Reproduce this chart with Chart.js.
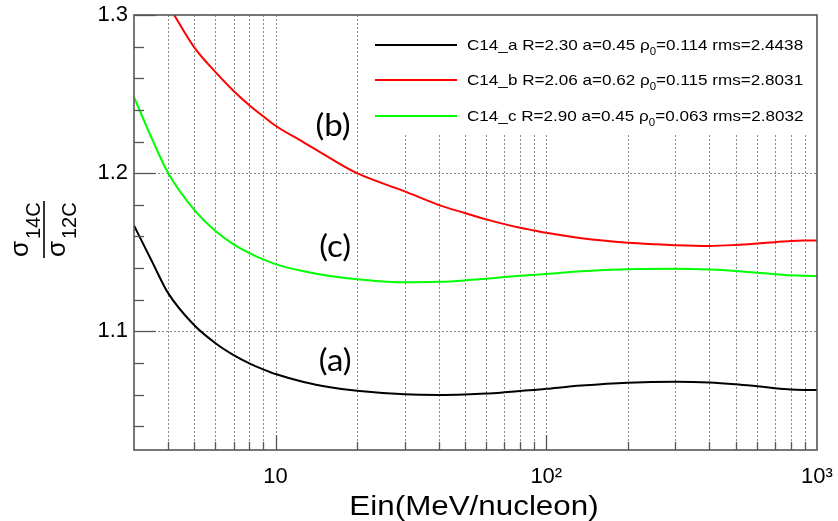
<!DOCTYPE html>
<html>
<head>
<meta charset="utf-8">
<script src="https://cdn.jsdelivr.net/npm/chart.js@4/dist/chart.umd.min.js"></script>
<style>
  html, body { margin: 0; padding: 0; background: #ffffff; }
  #wrap { width: 838px; height: 521px; }
</style>
</head>
<body>
<div id="wrap"><canvas id="c" width="838" height="521"></canvas></div>
<script>
// ---------------- data ----------------
const energyA = [3, 3.5, 4, 5, 6, 7, 8, 9, 10, 12.7, 15.9, 20, 30, 40, 50, 60, 70, 80, 90, 100, 135, 200, 300, 400, 500, 600, 700, 800, 900, 1000];
const ratioA  = [1.1669, 1.1440, 1.1245, 1.1040, 1.0925, 1.0850, 1.0798, 1.0760, 1.0730, 1.0680, 1.0647, 1.0624, 1.0602, 1.0598, 1.0601, 1.0607, 1.0615, 1.0623, 1.0630, 1.0637, 1.0657, 1.0675, 1.0681, 1.0677, 1.0666, 1.0653, 1.0641, 1.0633, 1.0630, 1.0629];

const energyB = [4.22, 5, 6, 7, 8, 9, 10, 12.7, 15.9, 20, 30, 40, 50, 60, 70, 80, 90, 100, 135, 200, 300, 400, 500, 600, 700, 800, 900, 1000];
const ratioB  = [1.3000, 1.2797, 1.2639, 1.2520, 1.2430, 1.2360, 1.2300, 1.2195, 1.2095, 1.2000, 1.1885, 1.1800, 1.1748, 1.1708, 1.1678, 1.1655, 1.1638, 1.1623, 1.1588, 1.1560, 1.1545, 1.1540, 1.1546, 1.1555, 1.1564, 1.1571, 1.1574, 1.1575];

const energyC = [3, 3.5, 4, 5, 6, 7, 8, 9, 10, 12.7, 15.9, 20, 30, 40, 50, 60, 70, 80, 90, 100, 135, 200, 300, 400, 500, 600, 700, 800, 900, 1000];
const ratioC  = [1.2481, 1.2215, 1.2005, 1.1770, 1.1635, 1.1550, 1.1495, 1.1455, 1.1425, 1.1380, 1.1350, 1.1330, 1.1310, 1.1313, 1.1322, 1.1333, 1.1343, 1.1351, 1.1357, 1.1362, 1.1380, 1.1393, 1.1396, 1.1391, 1.1382, 1.1371, 1.1361, 1.1354, 1.1351, 1.1350];

const seriesNames = ['C14_a', 'C14_b', 'C14_c'];
const legendTexts = [
  ['C14_a R=2.30 a=0.45 \u03C1', '0', '=0.114 rms=2.4438'],
  ['C14_b R=2.06 a=0.62 \u03C1', '0', '=0.115 rms=2.8031'],
  ['C14_c R=2.90 a=0.45 \u03C1', '0', '=0.063 rms=2.8032']
];
const curveLabels = ['(a)', '(b)', '(c)'];
const curveLabelE = [16.6, 16.3, 16.6];
const curveLabelV = [1.0808, 1.2296, 1.1530];

const xTickValues = [10, 100, 1000];
const xTickLabels = ['10', '10\u00B2', '10\u00B3'];
const yTickValues = [1.1, 1.2, 1.3];
const yTickLabels = ['1.1', '1.2', '1.3'];
const yMinorValues = [1.04, 1.06, 1.08, 1.12, 1.14, 1.16, 1.18, 1.22, 1.24, 1.26, 1.28];
const yGridValues = [1.1, 1.2];
const xAxisTitle = 'Ein(MeV/nucleon)';

const X_MIN = 3, X_MAX = 1000, Y_MIN = 1.025, Y_MAX = 1.3;

// x positions of the dotted grid / ticks (every integer multiple of a decade)
const xGridValues = [];
for (let d = 1; d <= 100; d *= 10) {
  for (let m = 1; m <= 9; m++) {
    const v = m * d;
    if (v > X_MIN && v < X_MAX) xGridValues.push(v);
  }
}

const COLORS = ['#000000', '#ff0000', '#00ff00'];
const FONT = "'Liberation Sans', Arial, Helvetica, sans-serif";

function toPts(xs, ys) { return xs.map((v, i) => ({ x: v, y: ys[i] })); }

// text drawn with a horizontal stretch factor (the reference is stretched)
function stretchedText(ctx, parts, x, y, sx) {
  ctx.save();
  ctx.translate(x, y);
  ctx.scale(sx, 1);
  let cx = 0;
  for (const p of parts) {
    ctx.font = p.font;
    ctx.fillText(p.text, cx, p.dy || 0);
    cx += ctx.measureText(p.text).width;
  }
  ctx.restore();
}

const rootPlugin = {
  id: 'rootStyle',
  beforeDatasetsDraw(chart) {
    const { ctx, chartArea: ca, scales: { x, y } } = chart;
    ctx.save();
    // dotted grid
    ctx.strokeStyle = '#8a8a8a';
    ctx.lineWidth = 1;
    ctx.setLineDash([2, 2]);
    for (const v of xGridValues) {
      const px = Math.round(x.getPixelForValue(v)) + 0.5;
      ctx.beginPath(); ctx.moveTo(px, ca.top); ctx.lineTo(px, ca.bottom); ctx.stroke();
    }
    for (const v of yGridValues) {
      const py = Math.round(y.getPixelForValue(v)) + 0.5;
      ctx.beginPath(); ctx.moveTo(ca.left, py); ctx.lineTo(ca.right, py); ctx.stroke();
    }
    ctx.setLineDash([]);
    // legend box (white, hides grid)
    const bx = x.getPixelForValue(22.5);
    ctx.fillStyle = '#ffffff';
    ctx.fillRect(bx, ca.top, ca.right - bx, 119);
    ctx.restore();
  },
  afterDatasetsDraw(chart) {
    const { ctx, chartArea: ca, scales: { x, y } } = chart;
    ctx.save();
    // ticks (inside the frame, ROOT style)
    ctx.strokeStyle = '#555555';
    ctx.lineWidth = 1.3;
    for (const v of yTickValues) {
      const py = Math.round(y.getPixelForValue(v)) + 0.5;
      ctx.beginPath(); ctx.moveTo(ca.left, py); ctx.lineTo(ca.left + 22, py); ctx.stroke();
    }
    for (const v of yMinorValues) {
      const py = Math.round(y.getPixelForValue(v)) + 0.5;
      ctx.beginPath(); ctx.moveTo(ca.left, py); ctx.lineTo(ca.left + 10, py); ctx.stroke();
    }
    for (const v of xGridValues) {
      const px = Math.round(x.getPixelForValue(v)) + 0.5;
      const len = (v === 10 || v === 100) ? 15 : 8;
      ctx.beginPath(); ctx.moveTo(px, ca.bottom); ctx.lineTo(px, ca.bottom - len); ctx.stroke();
    }
    // frame
    ctx.strokeStyle = '#555555';
    ctx.lineWidth = 1.6;
    ctx.strokeRect(ca.left, ca.top, ca.right - ca.left, ca.bottom - ca.top);

    // legend entries
    const rowY = [45, 80, 116];
    for (let i = 0; i < 3; i++) {
      ctx.strokeStyle = COLORS[i];
      ctx.lineWidth = 2;
      ctx.beginPath(); ctx.moveTo(375, rowY[i]); ctx.lineTo(457, rowY[i]); ctx.stroke();
      ctx.fillStyle = '#000000';
      ctx.textBaseline = 'middle';
      ctx.textAlign = 'left';
      const t = legendTexts[i];
      stretchedText(ctx, [
        { text: t[0], font: '15px ' + FONT },
        { text: t[1], font: '10px ' + FONT, dy: 6 },
        { text: t[2], font: '15px ' + FONT }
      ], 467, rowY[i] + 1, 1.14);
    }

    // curve annotations
    ctx.fillStyle = '#000000';
    ctx.textBaseline = 'middle';
    for (let i = 0; i < 3; i++) {
      const px = x.getPixelForValue(curveLabelE[i]);
      const py = y.getPixelForValue(curveLabelV[i]);
      ctx.save();
      ctx.translate(px, py);
      ctx.scale(1.1, 1);
      ctx.font = "30px Lato, 'Open Sans', sans-serif";
      ctx.textAlign = 'center';
      ctx.fillText(curveLabels[i], 0, 0);
      ctx.restore();
    }
    ctx.restore();
  },
  afterDraw(chart) {
    const { ctx } = chart;
    ctx.save();
    ctx.fillStyle = '#000000';
    // x axis title
    ctx.textBaseline = 'alphabetic';
    ctx.textAlign = 'center';
    ctx.save();
    ctx.translate(474, 515);
    ctx.scale(1.12, 1);
    ctx.font = '28px ' + FONT;
    ctx.fillText(xAxisTitle, 0, 0);
    ctx.restore();

    // y axis title: sigma_14C over sigma_12C, rotated
    ctx.save();
    ctx.translate(44, 230);
    ctx.rotate(-Math.PI / 2);
    ctx.textAlign = 'left';
    ctx.font = '26px ' + FONT;
    ctx.fillText('\u03C3', -27, -16);
    ctx.fillText('\u03C3', -27, 21);
    ctx.font = '20px ' + FONT;
    ctx.fillText('14C', -9, -4);
    ctx.fillText('12C', -9, 32);
    ctx.strokeStyle = '#000000';
    ctx.lineWidth = 1.6;
    ctx.beginPath(); ctx.moveTo(-28, 0); ctx.lineTo(29, 0); ctx.stroke();
    ctx.restore();
    ctx.restore();
  }
};

const datasets = [
  { label: seriesNames[0], data: toPts(energyA, ratioA), borderColor: COLORS[0] },
  { label: seriesNames[1], data: toPts(energyB, ratioB), borderColor: COLORS[1] },
  { label: seriesNames[2], data: toPts(energyC, ratioC), borderColor: COLORS[2] }
].map(d => Object.assign(d, {
  borderWidth: 2, pointRadius: 0, fill: false,
  cubicInterpolationMode: 'monotone', borderJoinStyle: 'round'
}));

new Chart(document.getElementById('c'), {
  type: 'line',
  data: { datasets },
  plugins: [rootPlugin],
  options: {
    responsive: false,
    animation: false,
    devicePixelRatio: 1,
    layout: { padding: { top: 15, right: 21, left: 0, bottom: 0 } },
    plugins: { legend: { display: false }, tooltip: { enabled: false } },
    scales: {
      x: {
        type: 'logarithmic',
        min: X_MIN, max: X_MAX,
        grid: { display: false, drawTicks: false },
        border: { display: false },
        afterBuildTicks(scale) { scale.ticks = xTickValues.map(v => ({ value: v })); },
        afterFit(scale) {
          scale.height = 71;
          scale.paddingLeft = 0; scale.paddingRight = 0;
          scale.paddingTop = 0; scale.paddingBottom = 0;
        },
        ticks: {
          autoSkip: false, maxRotation: 0, padding: 14, color: '#000000',
          font: { family: FONT, size: 22 },
          callback(value) { const i = xTickValues.indexOf(value); return i >= 0 ? xTickLabels[i] : ''; }
        }
      },
      y: {
        type: 'linear',
        min: Y_MIN, max: Y_MAX,
        grid: { display: false, drawTicks: false },
        border: { display: false },
        afterBuildTicks(scale) { scale.ticks = yTickValues.map(v => ({ value: v })); },
        afterFit(scale) {
          scale.width = 134;
          scale.paddingTop = 0; scale.paddingBottom = 0;
          scale.paddingLeft = 0; scale.paddingRight = 0;
        },
        ticks: {
          autoSkip: false, padding: 6, color: '#000000',
          font: { family: FONT, size: 22 },
          callback(value) {
            const i = yTickValues.findIndex(v => Math.abs(v - value) < 1e-9);
            return i >= 0 ? yTickLabels[i] : '';
          }
        }
      }
    }
  }
});
</script>
</body>
</html>
